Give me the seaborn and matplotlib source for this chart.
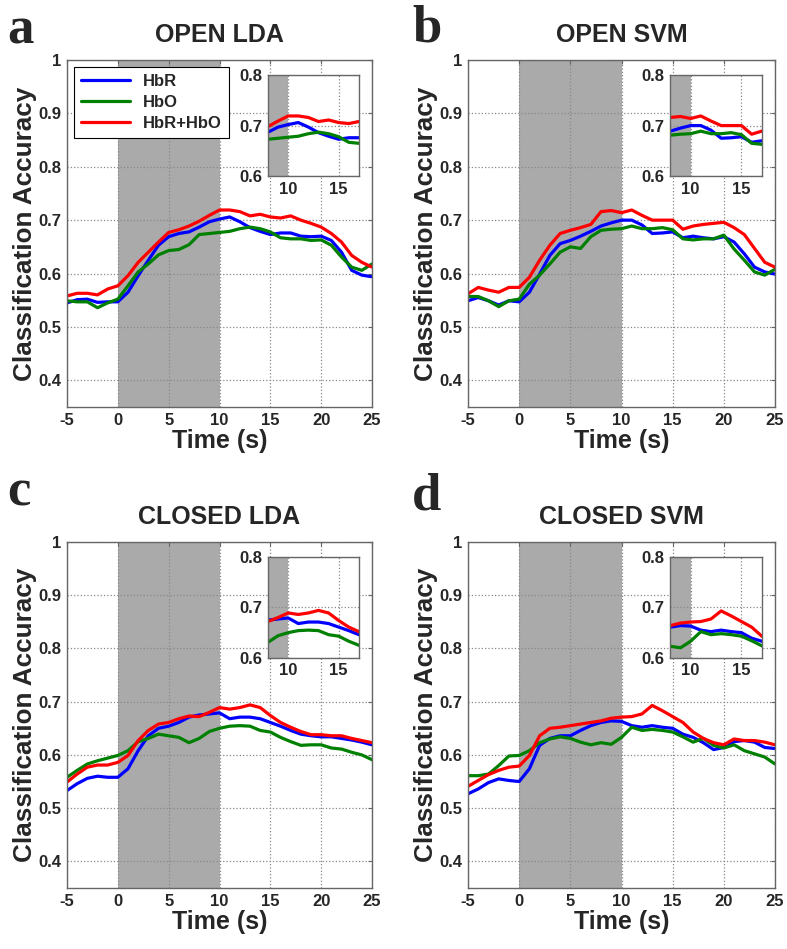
import matplotlib
matplotlib.use("Agg")
import matplotlib.pyplot as plt
from matplotlib.lines import Line2D
import seaborn as sns
import pandas as pd

# time axis (s) and classification accuracy curves
time = list(range(-5, 26))

open_lda_hbr = [0.545, 0.551, 0.552, 0.546, 0.547, 0.547, 0.565, 0.596, 0.625, 0.653, 0.669,
                0.675, 0.678, 0.687, 0.697, 0.702, 0.706, 0.697, 0.686, 0.679, 0.673, 0.676,
                0.676, 0.670, 0.669, 0.670, 0.662, 0.640, 0.606, 0.597, 0.594]
open_lda_hbo = [0.549, 0.547, 0.547, 0.536, 0.545, 0.552, 0.577, 0.603, 0.618, 0.635, 0.643,
                0.645, 0.654, 0.673, 0.675, 0.677, 0.679, 0.684, 0.687, 0.684, 0.678, 0.667,
                0.665, 0.665, 0.662, 0.663, 0.653, 0.631, 0.612, 0.606, 0.618]
open_lda_both = [0.558, 0.563, 0.563, 0.560, 0.571, 0.577, 0.596, 0.621, 0.640, 0.659, 0.677,
                 0.682, 0.689, 0.698, 0.709, 0.719, 0.719, 0.716, 0.708, 0.711, 0.706, 0.704,
                 0.708, 0.700, 0.694, 0.687, 0.675, 0.659, 0.634, 0.621, 0.612]

open_svm_hbr = [0.549, 0.555, 0.549, 0.541, 0.549, 0.547, 0.565, 0.599, 0.634, 0.656, 0.662,
                0.670, 0.679, 0.689, 0.695, 0.700, 0.700, 0.691, 0.675, 0.676, 0.678, 0.667,
                0.670, 0.667, 0.665, 0.669, 0.659, 0.637, 0.612, 0.603, 0.599]
open_svm_hbo = [0.557, 0.557, 0.549, 0.538, 0.549, 0.552, 0.580, 0.597, 0.618, 0.640, 0.650,
                0.647, 0.669, 0.681, 0.683, 0.684, 0.689, 0.684, 0.684, 0.686, 0.682, 0.665,
                0.663, 0.665, 0.665, 0.672, 0.646, 0.625, 0.603, 0.597, 0.608]
open_svm_both = [0.562, 0.574, 0.569, 0.565, 0.574, 0.574, 0.593, 0.625, 0.653, 0.675, 0.681,
                 0.686, 0.692, 0.716, 0.718, 0.714, 0.719, 0.709, 0.700, 0.700, 0.700, 0.683,
                 0.689, 0.692, 0.694, 0.696, 0.686, 0.673, 0.647, 0.621, 0.612]

closed_lda_hbr = [0.533, 0.546, 0.556, 0.560, 0.558, 0.558, 0.574, 0.608, 0.636, 0.650, 0.654,
                  0.661, 0.671, 0.675, 0.677, 0.679, 0.668, 0.671, 0.671, 0.668, 0.661, 0.654,
                  0.646, 0.639, 0.636, 0.634, 0.634, 0.631, 0.628, 0.624, 0.619]
closed_lda_hbo = [0.558, 0.571, 0.583, 0.589, 0.594, 0.599, 0.608, 0.625, 0.631, 0.639, 0.636,
                  0.633, 0.623, 0.631, 0.644, 0.650, 0.654, 0.655, 0.654, 0.646, 0.643, 0.633,
                  0.625, 0.618, 0.619, 0.619, 0.613, 0.611, 0.605, 0.600, 0.591]
closed_lda_both = [0.549, 0.564, 0.577, 0.581, 0.581, 0.586, 0.599, 0.627, 0.646, 0.658, 0.661,
                   0.668, 0.673, 0.672, 0.680, 0.689, 0.686, 0.689, 0.694, 0.689, 0.674, 0.661,
                   0.652, 0.644, 0.638, 0.638, 0.636, 0.636, 0.631, 0.627, 0.623]

closed_svm_hbr = [0.527, 0.536, 0.548, 0.555, 0.552, 0.550, 0.574, 0.618, 0.631, 0.636, 0.636,
                  0.646, 0.655, 0.661, 0.664, 0.663, 0.655, 0.652, 0.655, 0.652, 0.650, 0.639,
                  0.633, 0.623, 0.610, 0.614, 0.625, 0.627, 0.624, 0.614, 0.612]
closed_svm_hbo = [0.561, 0.561, 0.564, 0.580, 0.598, 0.599, 0.608, 0.623, 0.630, 0.634, 0.631,
                  0.624, 0.619, 0.623, 0.620, 0.633, 0.652, 0.646, 0.648, 0.646, 0.643, 0.634,
                  0.624, 0.631, 0.618, 0.613, 0.619, 0.608, 0.602, 0.596, 0.583]
closed_svm_both = [0.541, 0.552, 0.563, 0.571, 0.577, 0.579, 0.599, 0.636, 0.650, 0.652, 0.655,
                   0.658, 0.661, 0.664, 0.669, 0.671, 0.672, 0.677, 0.693, 0.683, 0.672, 0.661,
                   0.643, 0.631, 0.623, 0.619, 0.630, 0.627, 0.627, 0.624, 0.619]

signals = ["HbR", "HbO", "HbR+HbO"]
colors = {"HbR": "#0000ff", "HbO": "#008000", "HbR+HbO": "#ff0000"}
panels = [
    ("a", "OPEN LDA", [open_lda_hbr, open_lda_hbo, open_lda_both]),
    ("b", "OPEN SVM", [open_svm_hbr, open_svm_hbo, open_svm_both]),
    ("c", "CLOSED LDA", [closed_lda_hbr, closed_lda_hbo, closed_lda_both]),
    ("d", "CLOSED SVM", [closed_svm_hbr, closed_svm_hbo, closed_svm_both]),
]

sns.set_style("white")
plt.rcParams["font.family"] = ["Liberation Sans", "DejaVu Sans"]
plt.rcParams["font.weight"] = "bold"
plt.rcParams["axes.labelweight"] = "bold"
plt.rcParams["axes.titleweight"] = "bold"
plt.rcParams["axes.unicode_minus"] = False

SPINE = "#666666"
SHADE = "#aaaaaa"


def style_axes(ax, fs):
    ax.grid(True, linestyle=":", color="#888888", linewidth=0.9)
    ax.set_axisbelow("line")
    ax.tick_params(direction="in", top=True, right=True, length=3, width=0.8,
                   color=SPINE, labelsize=fs, pad=4)
    for s in ax.spines.values():
        s.set_color(SPINE)
        s.set_linewidth(1.0)


fig = plt.figure(figsize=(7.87, 9.49), dpi=100)
W, H = 787, 949
boxes = [(67, 60, 372, 407), (468, 60, 775, 407), (67, 542, 372, 888), (468, 542, 775, 888)]
letter_pos = [(7, 44), (412, 42), (7, 505), (412, 510)]

for (letter, title, series), (x0, y0, x1, y1), (lx, ly) in zip(panels, boxes, letter_pos):
    ax = fig.add_axes([x0 / W, 1 - y1 / H, (x1 - x0) / W, (y1 - y0) / H])
    df = pd.DataFrame({
        "time": time * 3,
        "acc": [v for s in series for v in s],
        "signal": [name for name in signals for _ in time],
    })
    ax.axvspan(0, 10, color=SHADE, zorder=0.5, lw=0)
    sns.lineplot(data=df, x="time", y="acc", hue="signal", hue_order=signals,
                 palette=colors, linewidth=2.3, ax=ax, legend=False)
    ax.set_xlim(-5, 25)
    ax.set_ylim(0.35, 1.0)
    ax.set_xticks(range(-5, 26, 5))
    ax.set_yticks([0.4, 0.5, 0.6, 0.7, 0.8, 0.9, 1.0])
    ax.set_yticklabels(["0.4", "0.5", "0.6", "0.7", "0.8", "0.9", "1"])
    style_axes(ax, 12)
    ax.set_xlabel("Time (s)", fontsize=18, labelpad=1)
    ax.set_ylabel("Classification Accuracy", fontsize=18.8, labelpad=1)
    ax.set_title(title, fontsize=18, pad=13)

    if letter == "a":
        handles = [Line2D([], [], color=colors[s], lw=2.3) for s in signals]
        leg = ax.legend(handles, signals, loc="upper left", fontsize=12,
                        frameon=True, fancybox=False, framealpha=1,
                        edgecolor="black", handlelength=2.9, labelspacing=0.35,
                        borderaxespad=0.4, borderpad=0.45)
        leg.get_frame().set_linewidth(0.8)

    # zoomed inset
    ins = ax.inset_axes([0.659, 0.665, 0.298, 0.292])
    ins.axvspan(0, 10, color=SHADE, zorder=0.5, lw=0)
    sns.lineplot(data=df, x="time", y="acc", hue="signal", hue_order=signals,
                 palette=colors, linewidth=2.3, ax=ins, legend=False)
    ins.set_xlim(8, 17)
    ins.set_ylim(0.6, 0.8)
    ins.set_xticks([10, 15])
    ins.set_yticks([0.6, 0.7, 0.8])
    ins.set_xlabel("")
    ins.set_ylabel("")
    ins.set_facecolor("white")
    style_axes(ins, 12)
    ins.tick_params(top=False, right=False)

    fig.text(lx / W, 1 - ly / H, letter, fontsize=38, fontweight="bold",
             family=["Liberation Serif", "DejaVu Serif"], va="baseline", ha="left")

fig.savefig("out.png", dpi=100)
